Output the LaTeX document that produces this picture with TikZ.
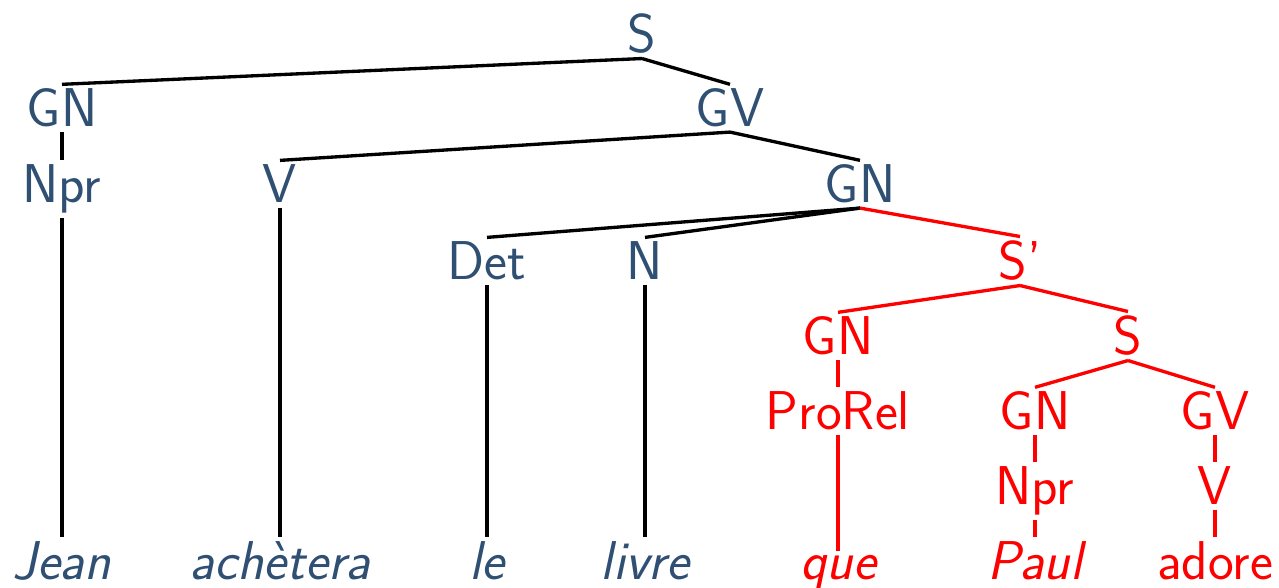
\documentclass[tikz,border=0pt]{standalone}
\usepackage{fontspec}
\usepackage{tikz}

\definecolor{bleu}{RGB}{47,79,115}
\tikzset{
  cat/.style={anchor=base,inner sep=1.2pt,text=bleu,font=\sffamily\fontsize{16.4}{19}\selectfont},
  mot/.style={cat,font=\sffamily\itshape\fontsize{16.4}{19}\selectfont},
  rel/.style={text=red},
  branche/.style={line width=1pt}
}

\begin{document}
\begin{tikzpicture}[x=0.3pt,y=-0.3pt]
        \useasboundingbox (0,0) rectangle (1279,588);
        % categories
        \node[cat] (s) at (642,53) {S};
        \node[cat] (gn) at (62,127) {GN};
        \node[cat] (gv) at (730,127) {GV};
        \node[cat] (npr) at (62,203) {Npr};
        \node[cat] (v) at (280,203) {V};
        \node[cat] (gnb) at (860,203) {GN};
        \node[cat] (det) at (487,280) {Det};
        \node[cat] (n) at (645,280) {N};
        % relative
        \node[cat,rel] (sp) at (1020,280) {S'};
        \node[cat,rel] (gnr) at (838,355) {GN};
        \node[cat,rel] (sr) at (1128,355) {S};
        \node[cat,rel] (prorel) at (838,430) {ProRel};
        \node[cat,rel] (gns) at (1035,430) {GN};
        \node[cat,rel] (gvs) at (1215,430) {GV};
        \node[cat,rel] (nprs) at (1035,505) {Npr};
        \node[cat,rel] (vs) at (1215,505) {V};
        % mots
        \node[mot] (jean) at (62,580) {Jean};
        \node[mot] (achetera) at (280,580) {achètera};
        \node[mot] (le) at (487,580) {le};
        \node[mot] (livre) at (645,580) {livre};
        \node[mot,rel] (que) at (838,580) {que};
        \node[mot,rel] (paul) at (1035,580) {Paul};
        \node[cat,rel] (adore) at (1215,580) {adore};
        % branches
        \foreach \a/\b in {s/gn,s/gv,gn/npr,gv/v,gv/gnb,gnb/det,gnb/n,npr/jean,v/achetera,det/le,n/livre}
            \draw[branche] (\a.south) -- (\b.north);
        \foreach \a/\b in {gnb/sp,sp/gnr,sp/sr,gnr/prorel,sr/gns,sr/gvs,gns/nprs,gvs/vs,prorel/que,nprs/paul,vs/adore}
            \draw[branche,red] (\a.south) -- (\b.north);
    \end{tikzpicture}
\end{document}
